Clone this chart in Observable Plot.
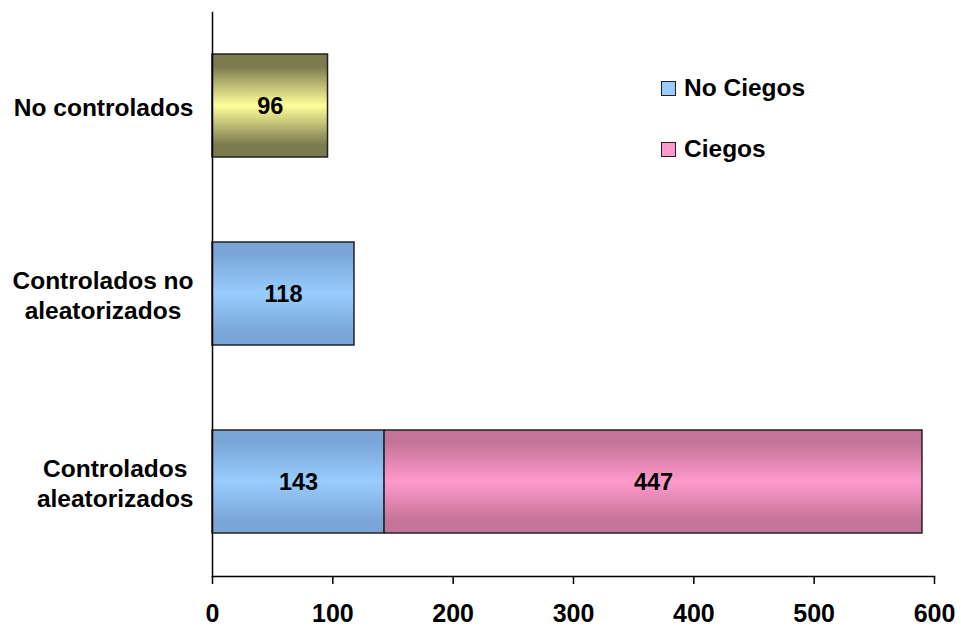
<!DOCTYPE html>
<html>
<head>
<meta charset="utf-8">
<script src="https://cdn.jsdelivr.net/npm/d3@7"></script>
<script src="https://cdn.jsdelivr.net/npm/@observablehq/plot@0.6"></script>
<style>
  html, body { margin: 0; padding: 0; background: #fff; }
  #chart { position: relative; width: 961px; height: 628px; font-family: "Liberation Sans", Arial, sans-serif; }
  .legend { position: absolute; left: 661px; top: 72px; font-weight: bold; font-size: 24.5px; color: #000; }
  .legend .item { display: flex; align-items: center; height: 32px; margin-bottom: 29px; }
  .legend .sw { width: 13px; height: 13px; border: 1.5px solid #222; margin-right: 8px; }
</style>
</head>
<body>
<div id="chart"></div>
<script>
// Study categories, top to bottom
const categories = ["No controlados", "Controlados no aleatorizados", "Controlados aleatorizados"];
// Axis label text for each category (line breaks as drawn)
const categoryLabels = ["No controlados", "Controlados no\naleatorizados", "Controlados\naleatorizados"];
const series = ["No Ciegos", "Ciegos"];
const noCiegos = [96, 118, 143];
const ciegos = [0, 0, 447];
const xTicks = [0, 100, 200, 300, 400, 500, 600];

// Long table for the stacked bars
const rows = [];
categories.forEach((c, i) => {
  if (noCiegos[i] > 0) rows.push({cat: c, serie: series[0], value: noCiegos[i]});
  if (ciegos[i] > 0) rows.push({cat: c, serie: series[1], value: ciegos[i]});
});

const fillFor = d =>
  d.cat === "No controlados" ? "url(#gYellow)" :
  d.serie === "Ciegos" ? "url(#gPink)" : "url(#gBlue)";

const font = '"Liberation Sans", Arial, sans-serif';

const chart = Plot.plot({
  width: 961,
  height: 628,
  marginLeft: 212,
  marginRight: 27,
  marginTop: 12,
  marginBottom: 52,
  style: {fontFamily: font, background: "#fff", color: "#000"},
  x: {domain: [0, 600], label: null},
  y: {domain: categories, paddingInner: 0.45, paddingOuter: 0.225, label: null},
  color: {type: "identity"},
  marks: [
    Plot.barX(rows, Plot.stackX({
      x: "value", y: "cat", z: "serie",
      fill: fillFor, stroke: "#222", strokeWidth: 1.5
    })),
    Plot.text(rows, Plot.stackX({
      x: "value", y: "cat", z: "serie", text: d => String(d.value),
      fontSize: 23.5, fontWeight: "bold", fill: "#000"
    })),
    Plot.frame({anchor: "left", stroke: "#000", strokeWidth: 1.5}),
    Plot.frame({anchor: "bottom", stroke: "#000", strokeWidth: 1.5}),
    Plot.axisX({
      ticks: xTicks, tickSize: 8, tickPadding: 20, tickFormat: d => String(d),
      fontSize: 25, fontWeight: "bold", stroke: "#000", strokeWidth: 1.5, label: null
    }),
    Plot.axisY({
      tickSize: 0, tickPadding: 19, lineHeight: 1.22,
      tickFormat: d => categoryLabels[categories.indexOf(d)],
      fontSize: 24.5, fontWeight: "bold", label: null
    })
  ]
});

// Vertical "tube" gradients: darker edges, light centre
const defs = d3.select(chart).insert("defs", ":first-child");
const gradients = [
  ["gYellow", "#7c7a4f", "#ffff99"],
  ["gBlue", "#79a6d6", "#99ccff"],
  ["gPink", "#c47498", "#ff99cc"]
];
for (const [id, edge, mid] of gradients) {
  const g = defs.append("linearGradient").attr("id", id)
    .attr("x1", 0).attr("y1", 0).attr("x2", 0).attr("y2", 1);
  g.append("stop").attr("offset", "0").attr("stop-color", edge);
  g.append("stop").attr("offset", "0.12").attr("stop-color", edge);
  g.append("stop").attr("offset", "0.5").attr("stop-color", mid);
  g.append("stop").attr("offset", "0.88").attr("stop-color", edge);
  g.append("stop").attr("offset", "1").attr("stop-color", edge);
}

const container = document.getElementById("chart");
container.appendChild(chart);

// Centre the lines of each category label within its right-aligned block
d3.select(chart).selectAll('g[aria-label="y-axis tick label"] text').each(function() {
  const w = this.getBBox().width;
  const t = d3.select(this).attr("text-anchor", "middle");
  const spans = t.selectAll("tspan");
  if (spans.size()) spans.attr("x", -w / 2);
  else t.attr("x", -w / 2);
});

// Legend
const legendColors = {"No Ciegos": "#99ccff", "Ciegos": "#ff99cc"};
const legend = d3.select(container).append("div").attr("class", "legend");
for (const s of series) {
  const item = legend.append("div").attr("class", "item");
  item.append("div").attr("class", "sw").style("background", legendColors[s]);
  item.append("span").text(s);
}
</script>
</body>
</html>
